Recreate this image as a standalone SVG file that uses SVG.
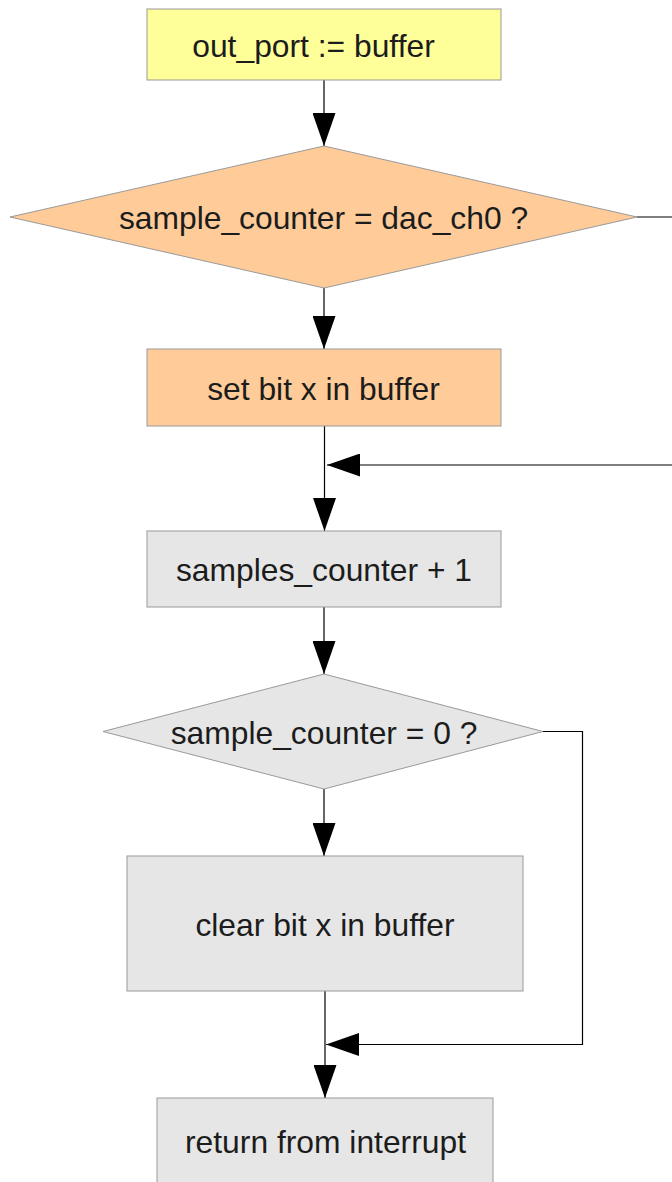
<svg xmlns="http://www.w3.org/2000/svg" width="672" height="1182" viewBox="0 0 672 1182">
<defs>
<marker id="arr" markerUnits="userSpaceOnUse" markerWidth="34" markerHeight="23" refX="33" refY="11.5" orient="auto" viewBox="0 0 34 23">
<path d="M0,0 L33,11.5 L0,23 Z" fill="#000"/>
</marker>
<style>
.n{stroke:#999;stroke-width:1}
.y{fill:#ffff99}
.o{fill:#ffcc99}
.g{fill:#e6e6e6}
.t{font-family:"Liberation Sans",Arial,sans-serif;font-size:31.8px;fill:#1c1c1c;text-anchor:middle}
.c{fill:none;stroke:#000;stroke-width:1.2}
</style>
</defs>
<g id="connectors">
<line class="c" x1="324" y1="80" x2="324" y2="146" marker-end="url(#arr)"/>
<line class="c" x1="324" y1="288" x2="324" y2="349" marker-end="url(#arr)"/>
<line class="c" x1="324.5" y1="426" x2="324.5" y2="531" marker-end="url(#arr)"/>
<polyline class="c" points="637,217 672,217"/>
<line class="c" x1="672" y1="465" x2="327" y2="465" marker-end="url(#arr)"/>
<line class="c" x1="324" y1="607" x2="324" y2="674" marker-end="url(#arr)"/>
<line class="c" x1="324" y1="789" x2="324" y2="856" marker-end="url(#arr)"/>
<polyline class="c" points="543,731.5 582.5,731.5 582.5,1044.5 326,1044.5" marker-end="url(#arr)"/>
<line class="c" x1="325" y1="991" x2="325" y2="1098" marker-end="url(#arr)"/>
</g>
<g id="n1">
<rect class="n y" x="147" y="9" width="354" height="71"/>
<text class="t" x="313.5" y="57">out_port := buffer</text>
</g>
<g id="n2">
<polygon class="n o" points="324,146 637,217 324,288 10,217"/>
<text class="t" x="323.5" y="228.5">sample_counter = dac_ch0 ?</text>
</g>
<g id="n3">
<rect class="n o" x="147" y="349" width="354" height="77"/>
<text class="t" x="323.5" y="400">set bit x in buffer</text>
</g>
<g id="n4">
<rect class="n g" x="147" y="531" width="354" height="76"/>
<text class="t" x="324" y="581">samples_counter + 1</text>
</g>
<g id="n5">
<polygon class="n g" points="324,674 543,731.5 324,789 103,731.5"/>
<text class="t" x="324" y="744">sample_counter = 0 ?</text>
</g>
<g id="n6">
<rect class="n g" x="127" y="856" width="396" height="135"/>
<text class="t" x="325" y="936">clear bit x in buffer</text>
</g>
<g id="n7">
<rect class="n g" x="157" y="1098" width="336" height="90"/>
<text class="t" x="325.5" y="1153">return from interrupt</text>
</g>
</svg>
